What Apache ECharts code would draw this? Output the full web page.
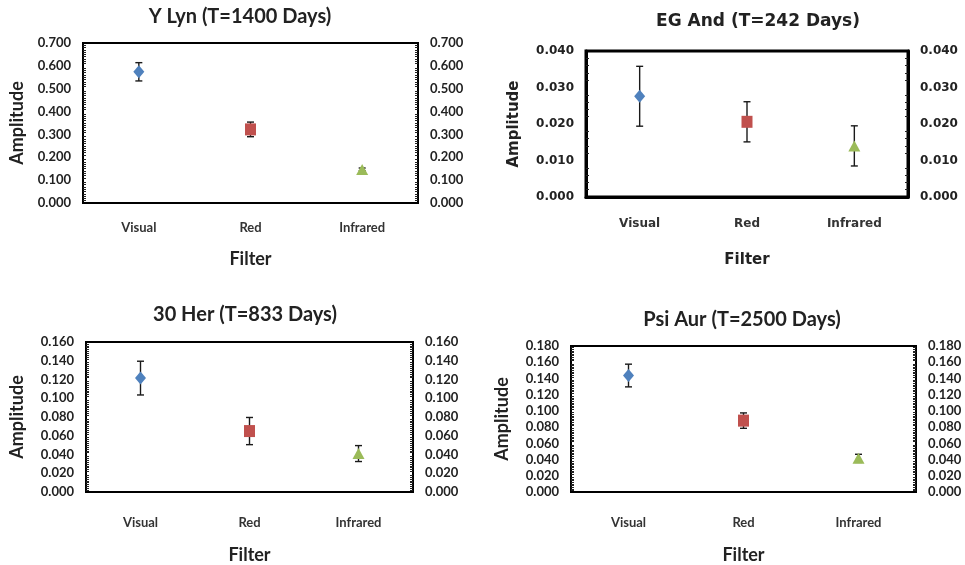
<!DOCTYPE html>
<html>
<head>
<meta charset="utf-8">
<script src="https://cdn.jsdelivr.net/npm/echarts@6/dist/echarts.min.js"></script>
<style>
  html, body { margin: 0; padding: 0; background: #fff; }
  #main { width: 965px; height: 565px; }
</style>
</head>
<body>
<div id="main"></div>
<script>
// categories
const filters = ['Visual', 'Red', 'Infrared']

// amplitudes and +/- errors
const yLynAmp = [0.574, 0.322, 0.147]
const yLynErr = [0.040, 0.032, 0.006]
const egAndAmp = [0.0276, 0.0206, 0.0140]
const egAndErr = [0.0082, 0.0055, 0.0055]
const herAmp = [0.1215, 0.065, 0.041]
const herErr = [0.018, 0.0145, 0.0085]
const psiAmp = [0.1436, 0.088, 0.0415]
const psiErr = [0.014, 0.0095, 0.005]

// axis ranges
const yLynAxis = { max: 0.7, interval: 0.1 }
const egAndAxis = { max: 0.04, interval: 0.01 }
const herAxis = { max: 0.16, interval: 0.02 }
const psiAxis = { max: 0.18, interval: 0.02 }

const titles = ['Y Lyn (T=1400 Days)', 'EG And (T=242 Days)', '30 Her (T=833 Days)', 'Psi Aur (T=2500 Days)']

// marker look per filter
const markers = [
  { symbol: 'diamond', size: [11, 13], color: '#4F81BD' },
  { symbol: 'rect', size: [11, 12], color: '#C0504D' },
  { symbol: 'triangle', size: [12, 11], color: '#9BBB59' }
]

const panels = [
  { amp: yLynAmp, err: yLynErr, axis: yLynAxis, font: 'Lato', grid: { left: 83, top: 43, width: 335, height: 160 },
    title: [240, 17], tick: 13, cat: 13, catGap: 18, name: 18, xGap: 47, yGap: 57, tSize: 20, border: 2, minor: 10 },
  { amp: egAndAmp, err: egAndErr, axis: egAndAxis, font: 'DejaVu Sans', grid: { left: 586, top: 51, width: 322, height: 146 },
    title: [758, 22], tick: 12, cat: 12, catGap: 21, name: 15, xGap: 56, yGap: 64, tSize: 17, border: 3, minor: 5 },
  { amp: herAmp, err: herErr, axis: herAxis, font: 'Lato', grid: { left: 86, top: 342, width: 327, height: 159 },
    title: [245, 315], tick: 13, cat: 13, catGap: 24, name: 18, xGap: 54, yGap: 60, tSize: 20, border: 2, minor: 10 },
  { amp: psiAmp, err: psiErr, axis: psiAxis, font: 'Lato', grid: { left: 571, top: 346, width: 345, height: 155 },
    title: [742, 320], tick: 13, cat: 13, catGap: 24, name: 18, xGap: 54, yGap: 60, tSize: 20, border: 2, minor: 10 }
]

const option = {
  backgroundColor: '#fff',
  animation: false,
  grid: [],
  xAxis: [],
  yAxis: [],
  series: [],
  graphic: []
}

panels.forEach((p, i) => {
  option.grid.push(Object.assign({ show: true, borderColor: '#000', borderWidth: p.border, backgroundColor: 'transparent' }, p.grid))

  option.xAxis.push({
    gridIndex: i,
    type: 'category',
    data: filters,
    boundaryGap: true,
    name: 'Filter',
    nameLocation: 'middle',
    nameGap: p.xGap,
    nameTextStyle: { fontFamily: p.font, fontWeight: 'bold', fontSize: p.name, color: '#222' },
    axisLine: { lineStyle: { color: '#000', width: p.border } },
    axisTick: { inside: true, length: 4, lineStyle: { color: '#000', width: 1.5 } },
    axisLabel: { fontFamily: p.font, fontWeight: 'bold', fontSize: p.cat, color: '#333', margin: p.catGap },
    splitLine: { show: false }
  })

  const yBase = {
    gridIndex: i,
    type: 'value',
    min: 0,
    max: p.axis.max,
    interval: p.axis.interval,
    axisLine: { show: true, lineStyle: { color: '#000', width: p.border } },
    axisTick: { inside: true, length: 5, lineStyle: { color: '#000', width: 1.2 } },
    minorTick: { show: true, splitNumber: p.minor, length: 3, lineStyle: { color: '#222', width: 1 } },
    axisLabel: {
      fontFamily: p.font, fontWeight: 'bold', fontSize: p.tick, color: '#222', margin: 12,
      formatter: v => v.toFixed(3)
    },
    splitLine: { show: false }
  }
  option.yAxis.push(Object.assign({}, yBase, {
    position: 'left',
    name: 'Amplitude',
    nameLocation: 'middle',
    nameGap: p.yGap,
    nameTextStyle: { fontFamily: p.font, fontWeight: 'bold', fontSize: p.name, color: '#222' }
  }))
  option.yAxis.push(Object.assign({}, yBase, { position: 'right' }))

  // error bars
  option.series.push({
    type: 'custom',
    xAxisIndex: i,
    yAxisIndex: i * 2,
    z: 2,
    data: filters.map((f, j) => [j, p.amp[j], p.err[j]]),
    encode: { x: 0, y: 1 },
    renderItem: (params, api) => {
      const x = api.value(0)
      const v = api.value(1)
      const e = api.value(2)
      const hi = api.coord([x, v + e])
      const lo = api.coord([x, v - e])
      const cw = 3.5
      const st = { stroke: '#1a1a1a', lineWidth: 1.4 }
      return {
        type: 'group',
        children: [
          { type: 'line', shape: { x1: hi[0], y1: hi[1], x2: lo[0], y2: lo[1] }, style: st },
          { type: 'line', shape: { x1: hi[0] - cw, y1: hi[1], x2: hi[0] + cw, y2: hi[1] }, style: st },
          { type: 'line', shape: { x1: lo[0] - cw, y1: lo[1], x2: lo[0] + cw, y2: lo[1] }, style: st }
        ]
      }
    }
  })

  // markers
  option.series.push({
    type: 'scatter',
    xAxisIndex: i,
    yAxisIndex: i * 2,
    z: 3,
    data: filters.map((f, j) => ({
      value: [j, p.amp[j]],
      symbol: markers[j].symbol,
      symbolSize: markers[j].size,
      itemStyle: { color: markers[j].color, opacity: 1 }
    }))
  })

  option.graphic.push({
    type: 'text',
    x: p.title[0],
    y: p.title[1],
    style: {
      text: titles[i],
      fontFamily: p.font,
      fontWeight: 'bold',
      fontSize: p.tSize,
      fill: '#222',
      align: 'center',
      verticalAlign: 'middle'
    }
  })
})

const chart = echarts.init(document.getElementById('main'))
chart.setOption(option)
</script>
</body>
</html>
